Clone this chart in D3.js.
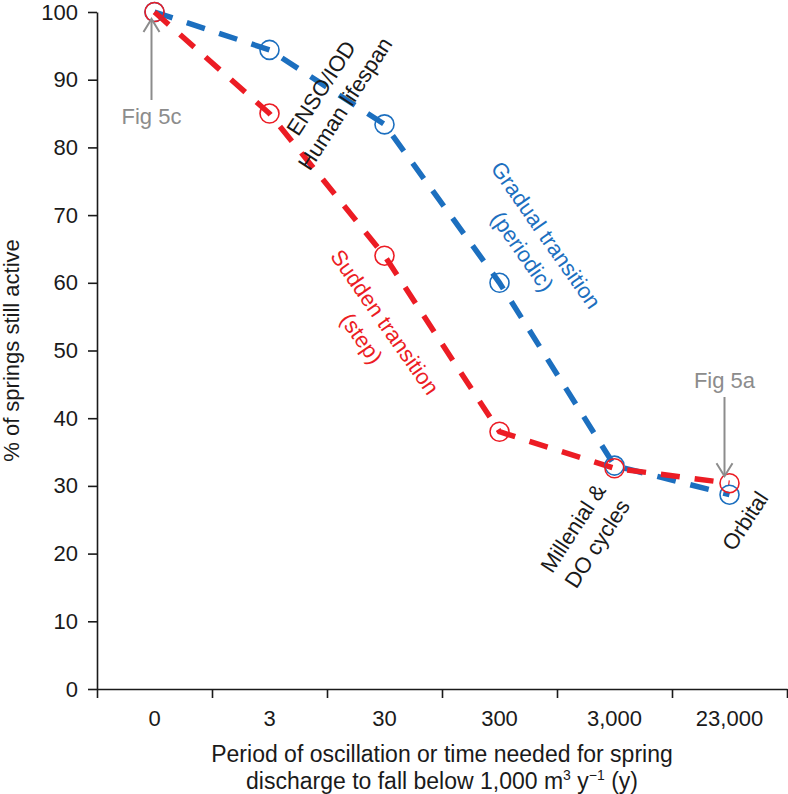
<!DOCTYPE html>
<html>
<head>
<meta charset="utf-8">
<script src="https://cdn.jsdelivr.net/npm/d3@7"></script>
<style>
  html, body { margin: 0; padding: 0; background: #fff; }
  svg { display: block; }
  text { font-family: "Liberation Sans", Arial, Helvetica, sans-serif; }
</style>
</head>
<body>
<svg id="chart" width="788" height="794"></svg>
<script>
// ---- data ----
const categories = ["0", "3", "30", "300", "3,000", "23,000"];
const suddenValues = [100, 85.0, 64.0, 38.0, 32.6, 30.4];   // red, "Sudden transition (step)"
const gradualValues = [100, 94.4, 83.4, 60.0, 33.0, 28.7];  // blue, "Gradual transition (periodic)"
const yTicks = [0, 10, 20, 30, 40, 50, 60, 70, 80, 90, 100];

// ---- layout ----
const W = 788, H = 794;
const margin = { left: 97, top: 12, right: 1, bottom: 105 };
const innerW = W - margin.left - margin.right;
const innerH = H - margin.top - margin.bottom;

const RED = "#ec1c24", BLUE = "#1c6fbf", GREY = "#8c8c8c", INK = "#1a1a1a";
const FS = 22;

const svg = d3.select("#chart");
const g = svg.append("g").attr("transform", `translate(${margin.left},${margin.top})`);

const x = d3.scaleBand().domain(categories).range([0, innerW]).paddingInner(0).paddingOuter(0);
const xEdge = d3.scaleLinear().domain([0, categories.length]).range([0, innerW]);
const y = d3.scaleLinear().domain([0, 100]).range([innerH, 0]);
const cx = c => x(c) + x.bandwidth() / 2;

// ---- axes ----
const yAxis = g.append("g").call(d3.axisLeft(y).tickValues(yTicks).tickSize(9).tickPadding(10).tickSizeOuter(0));
yAxis.select(".domain").attr("stroke", INK).attr("stroke-width", 1.6);
yAxis.selectAll(".tick line").attr("stroke", INK).attr("stroke-width", 1.6);
yAxis.selectAll(".tick text").attr("fill", INK).style("font-size", FS + "px")
  .style("font-family", '"Liberation Sans", Arial, sans-serif');

const xTicksAxis = g.append("g").attr("transform", `translate(0,${innerH})`)
  .call(d3.axisBottom(xEdge).tickValues(d3.range(categories.length + 1)).tickSize(9).tickSizeOuter(0).tickFormat(""));
xTicksAxis.select(".domain").attr("stroke", INK).attr("stroke-width", 1.6);
xTicksAxis.selectAll(".tick line").attr("stroke", INK).attr("stroke-width", 1.6);

const xLabelAxis = g.append("g").attr("transform", `translate(0,${innerH})`)
  .call(d3.axisBottom(x).tickSize(0).tickPadding(21));
xLabelAxis.select(".domain").remove();
xLabelAxis.selectAll(".tick text").attr("fill", INK).style("font-size", FS + "px")
  .style("font-family", '"Liberation Sans", Arial, sans-serif');

// ---- axis titles ----
svg.append("text")
  .attr("transform", `translate(19,${margin.top + innerH / 2}) rotate(-90)`)
  .attr("text-anchor", "middle").attr("fill", INK).style("font-size", FS + "px")
  .text("% of springs still active");

const xt = svg.append("text").attr("text-anchor", "middle").attr("fill", INK).style("font-size", "23px");
const xtc = margin.left + innerW / 2;
xt.append("tspan").attr("x", xtc).attr("y", 762).text("Period of oscillation or time needed for spring");
const l2 = xt.append("tspan").attr("x", xtc).attr("y", 789);
l2.append("tspan").text("discharge to fall below 1,000 m");
l2.append("tspan").attr("dy", -9).style("font-size", "14px").text("3");
l2.append("tspan").attr("dy", 9).text(" y");
l2.append("tspan").attr("dy", -9).style("font-size", "14px").text("\u22121");
l2.append("tspan").attr("dy", 9).text(" (y)");

// ---- series ----
const series = [
  { name: "gradual", values: gradualValues, color: BLUE },
  { name: "sudden", values: suddenValues, color: RED }
];
const line = d3.line().x((d, i) => cx(categories[i])).y(d => y(d));

series.forEach(s => {
  g.append("path").datum(s.values)
    .attr("d", line)
    .attr("fill", "none")
    .attr("stroke", s.color)
    .attr("stroke-width", 5.5)
    .attr("stroke-dasharray", "19,15")
    .attr("stroke-linecap", "butt");
});
series.forEach(s => {
  g.selectAll(null).data(s.values).enter().append("circle")
    .attr("cx", (d, i) => cx(categories[i]))
    .attr("cy", d => y(d))
    .attr("r", 9.5)
    .attr("fill", "none")
    .attr("stroke", s.color)
    .attr("stroke-width", 1.6);
});

// ---- annotations ----
function arrow(x0, y0, x1, y1) {
  g.append("line").attr("x1", x0).attr("y1", y0).attr("x2", x1).attr("y2", y1)
    .attr("stroke", GREY).attr("stroke-width", 2);
  const dir = Math.sign(y1 - y0);
  g.append("path")
    .attr("d", `M${x1 - 8},${y1 - dir * 13} L${x1},${y1} L${x1 + 8},${y1 - dir * 13}`)
    .attr("fill", "none").attr("stroke", GREY).attr("stroke-width", 2);
}
// Fig 5c
const fx0 = cx(categories[0]) - 3;
arrow(fx0, 100 - margin.top, fx0, y(100) + 7);
g.append("text").attr("x", fx0).attr("y", 124 - margin.top).attr("text-anchor", "middle")
  .attr("fill", GREY).style("font-size", FS + "px").text("Fig 5c");
// Fig 5a
const fx5 = cx(categories[5]) - 5;
arrow(fx5, 397 - margin.top, fx5, y(suddenValues[5]) - 7);
g.append("text").attr("x", fx5).attr("y", 388 - margin.top).attr("text-anchor", "middle")
  .attr("fill", GREY).style("font-size", FS + "px").text("Fig 5a");

function rotLabel(cxp, cyp, angle, lines, color) {
  const t = svg.append("text")
    .attr("transform", `translate(${cxp},${cyp}) rotate(${angle})`)
    .attr("text-anchor", "middle").attr("fill", color).style("font-size", FS + "px");
  lines.forEach((s, i) => {
    t.append("tspan").attr("x", 0).attr("dy", i === 0 ? "0.35em" : "1.3em").text(s);
  });
}
rotLabel(321, 88, -57, ["ENSO/IOD", "Human lifespan"], INK);
rotLabel(573, 528, -57, ["Millenial &", "DO cycles"], INK);
rotLabel(745, 521, -57, ["Orbital"], INK);
rotLabel(546, 235, 55, ["Gradual transition", "(periodic)"], BLUE);
rotLabel(385, 322, 55, ["Sudden transition", "(step)"], RED);
</script>
</body>
</html>
